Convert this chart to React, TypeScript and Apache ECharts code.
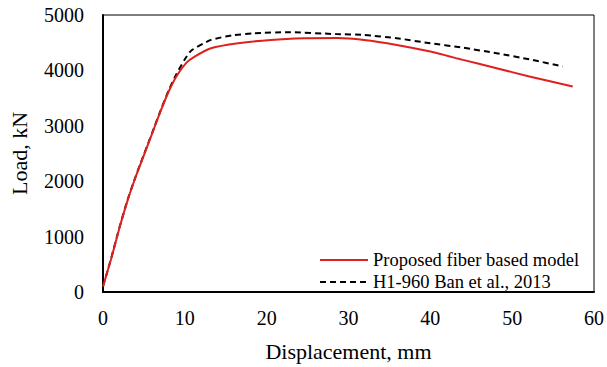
import React, { useEffect, useRef } from "react";
import * as echarts from "echarts";

const modelData: number[][] = [
  [0, 100], [1, 600], [2, 1150], [3, 1650], [4, 2080], [5, 2470], [6, 2860],
  [7, 3250], [8, 3610], [9, 3900], [10.2, 4140], [11.2, 4250], [13.2, 4400],
  [16.5, 4490], [20.5, 4550], [24.6, 4580], [28.6, 4585], [31.9, 4550],
  [35.9, 4460], [40, 4340], [44, 4190], [48.1, 4040], [52.1, 3890], [57.4, 3710],
];

const testData: number[][] = [
  [0, 100], [1, 610], [2, 1160], [3, 1660], [4, 2090], [5, 2480], [6, 2870],
  [7, 3260], [8, 3630], [9, 3940], [10.0, 4200], [10.8, 4360], [13.2, 4550],
  [15.7, 4630], [18.5, 4670], [22.6, 4690], [28.5, 4655], [31.9, 4640],
  [35.9, 4580], [40, 4490], [44, 4410], [48.1, 4310], [52.1, 4200], [56.2, 4070],
];

const seriesNames = ["Proposed fiber based model", "H1-960 Ban et al., 2013"];
const xAxisTitle = "Displacement, mm";
const yAxisTitle = "Load, kN";

const FONT = "'Liberation Serif', 'Times New Roman', serif";

export default function App() {
  const ref = useRef<HTMLDivElement>(null);
  useEffect(() => {
    document.body.style.margin = "0";
    const chart = echarts.init(ref.current!, null, { renderer: "svg" });
    chart.setOption({
      animation: false,
      backgroundColor: "#fff",
      grid: {
        left: 101,
        right: 12,
        top: 15,
        bottom: 75,
        show: true,
        borderColor: "#000",
        borderWidth: 1,
      },
      legend: {
        orient: "vertical",
        left: 319,
        top: 250,
        padding: 0,
        itemWidth: 48,
        itemHeight: 14,
        itemGap: 2,
        itemStyle: { opacity: 0 },
        textStyle: { fontFamily: FONT, fontSize: 18.5, color: "#000", lineHeight: 20 },
        data: seriesNames,
      },
      xAxis: {
        type: "value",
        min: 0,
        max: 60,
        interval: 10,
        name: xAxisTitle,
        nameLocation: "middle",
        nameGap: 48,
        nameTextStyle: { fontFamily: FONT, fontSize: 22, color: "#000" },
        axisLine: { show: true, lineStyle: { color: "#000", width: 2 } },
        axisTick: { show: false },
        splitLine: { show: false },
        axisLabel: { fontFamily: FONT, fontSize: 20, color: "#000", margin: 16 },
      },
      yAxis: {
        type: "value",
        min: 0,
        max: 5000,
        interval: 1000,
        name: yAxisTitle,
        nameLocation: "middle",
        nameGap: 73,
        nameTextStyle: { fontFamily: FONT, fontSize: 22, color: "#000" },
        axisLine: { show: true, lineStyle: { color: "#000", width: 2 } },
        axisTick: { show: false },
        splitLine: { show: false },
        axisLabel: {
          fontFamily: FONT,
          fontSize: 20,
          color: "#000",
          margin: 19,
          formatter: (v: number) => String(v),
        },
      },
      series: [
        {
          name: seriesNames[0],
          type: "line",
          data: modelData,
          symbol: "none",
          smooth: 0.2,
          lineStyle: { color: "#e0201e", width: 2 },
          itemStyle: { color: "#e0201e" },
          z: 3,
        },
        {
          name: seriesNames[1],
          type: "line",
          data: testData,
          symbol: "none",
          smooth: 0.2,
          lineStyle: { color: "#000", width: 2, type: [6, 4] },
          itemStyle: { color: "#000" },
          z: 2,
        },
      ],
    });
    return () => chart.dispose();
  }, []);
  return <div ref={ref} style={{ width: 607, height: 367 }} />;
}
